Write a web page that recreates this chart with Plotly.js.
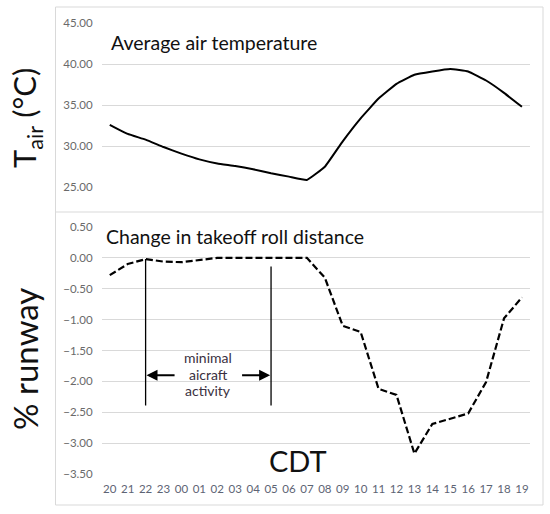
<!DOCTYPE html>
<html>
<head>
<meta charset="utf-8">
<script src="https://cdn.plot.ly/plotly-3.0.1.min.js"></script>
<style>html,body{margin:0;padding:0;background:#fff;}#chart{width:550px;height:514px;}</style>
</head>
<body>
<div id="chart"></div>
<script>
// ---- data ----
const hours = ['20','21','22','23','00','01','02','03','04','05','06','07','08','09','10','11','12','13','14','15','16','17','18','19'];
const airTemp = [32.6, 31.5, 30.8, 29.9, 29.1, 28.4, 27.9, 27.6, 27.2, 26.7, 26.3, 25.9, 27.5, 30.6, 33.4, 35.8, 37.6, 38.7, 39.1, 39.4, 39.1, 38.0, 36.5, 34.8];
const runwayChange = [-0.28, -0.10, -0.02, -0.06, -0.07, -0.03, 0.0, 0.0, 0.0, 0.0, 0.0, 0.0, -0.32, -1.10, -1.20, -2.12, -2.22, -3.17, -2.69, -2.60, -2.52, -2.01, -0.98, -0.64];
const topTicks = [25, 30, 35, 40, 45];
const bottomTicks = [0.5, 0, -0.5, -1, -1.5, -2, -2.5, -3, -3.5];
const topTitle = 'Average air temperature';
const bottomTitle = 'Change in takeoff roll distance';
const topYLabel = 'T<sub>air</sub> (°C)';
const bottomYLabel = '% runway';
const xLabel = 'CDT';
const activityStart = '22';
const activityEnd = '05';
const activityText = ['minimal', 'aicraft', 'activity'];

// ---- layout helpers (pixel -> paper) ----
const W = 550, H = 514;
const px = x => x / W;
const py = y => (H - y) / H;
const idx = h => hours.indexOf(h);
const FONT = 'Lato, "Open Sans", sans-serif';

const traces = [
  {x: hours, y: airTemp, xaxis: 'x', yaxis: 'y', type: 'scatter', mode: 'lines',
   line: {color: '#000', width: 2, shape: 'spline', smoothing: 0.3}, hoverinfo: 'skip'},
  {x: hours, y: runwayChange, xaxis: 'x2', yaxis: 'y2', type: 'scatter', mode: 'lines',
   line: {color: '#000', width: 2.2, dash: '7px,3px'}, hoverinfo: 'skip'}
];

const xr = [-0.45, hours.length - 0.55];
const gridC = '#d9d9d9';
const tickC = '#6a6a6a';

const layout = {
  width: W, height: H,
  margin: {l: 0, r: 0, t: 0, b: 0},
  paper_bgcolor: '#fff', plot_bgcolor: 'rgba(0,0,0,0)',
  showlegend: false,
  font: {family: FONT},
  xaxis: {type: 'category', domain: [px(101.7), px(530)], range: xr, anchor: 'y',
          showgrid: false, zeroline: false, showline: false, showticklabels: false, ticks: ''},
  yaxis: {domain: [py(187.3), py(23)], range: [25, 45], anchor: 'x',
          tickvals: topTicks, tickformat: '.2f', showgrid: true, gridcolor: gridC, gridwidth: 1,
          zeroline: false, showline: false, ticks: '', ticklabelstandoff: 8,
          tickfont: {family: FONT, size: 11.5, color: tickC}},
  xaxis2: {type: 'category', domain: [px(101.7), px(530)], range: xr, anchor: 'y2',
           showgrid: false, zeroline: false, showline: false, ticks: '',
           tickfont: {family: FONT, size: 11.5, color: '#5d6474'}, ticklabelstandoff: 6, tickangle: 0},
  yaxis2: {domain: [py(474), py(227)], range: [-3.5, 0.5], anchor: 'x2',
           tickvals: bottomTicks, tickformat: '.2f', showgrid: true, gridcolor: gridC, gridwidth: 1,
           zeroline: false, showline: false, ticks: '', ticklabelstandoff: 8,
           tickfont: {family: FONT, size: 11.5, color: tickC}},
  shapes: [
    {type: 'rect', xref: 'paper', yref: 'paper', x0: px(55.5), x1: px(543), y0: py(505), y1: py(7),
     line: {color: gridC, width: 1}, fillcolor: 'rgba(0,0,0,0)'},
    {type: 'line', xref: 'paper', yref: 'paper', x0: px(55.5), x1: px(543), y0: py(212), y1: py(212),
     line: {color: gridC, width: 1}},
    {type: 'line', xref: 'x2', yref: 'y2', x0: idx(activityStart), x1: idx(activityStart),
     y0: runwayChange[idx(activityStart)], y1: -2.39, line: {color: '#000', width: 1.3}},
    {type: 'line', xref: 'x2', yref: 'y2', x0: idx(activityEnd), x1: idx(activityEnd),
     y0: -0.14, y1: -2.39, line: {color: '#000', width: 1.3}}
  ],
  annotations: [
    {text: topTitle, xref: 'paper', yref: 'paper', x: px(109), y: py(42), xanchor: 'left', yanchor: 'middle',
     showarrow: false, font: {family: FONT, size: 19.5, color: '#111'}},
    {text: bottomTitle, xref: 'paper', yref: 'paper', x: px(104), y: py(236), xanchor: 'left', yanchor: 'middle',
     showarrow: false, font: {family: FONT, size: 19.5, color: '#111'}},
    {text: topYLabel, xref: 'paper', yref: 'paper', x: px(27), y: py(118), xanchor: 'center', yanchor: 'middle',
     textangle: -90, showarrow: false, font: {family: FONT, size: 31, color: '#111'}},
    {text: bottomYLabel, xref: 'paper', yref: 'paper', x: px(25), y: py(359), xanchor: 'center', yanchor: 'middle',
     textangle: -90, showarrow: false, font: {family: FONT, size: 33, color: '#111'}},
    {text: xLabel, xref: 'paper', yref: 'paper', x: px(298), y: py(460), xanchor: 'center', yanchor: 'middle',
     showarrow: false, font: {family: FONT, size: 29, color: '#111'}},
    // arrows
    {text: '', xref: 'x2', yref: 'y2', axref: 'x2', ayref: 'y2',
     x: idx(activityStart) + 0.05, y: -1.90, ax: idx(activityStart) + 1.7, ay: -1.90,
     showarrow: true, arrowhead: 2, arrowsize: 1.1, arrowwidth: 2, arrowcolor: '#000'},
    {text: '', xref: 'x2', yref: 'y2', axref: 'x2', ayref: 'y2',
     x: idx(activityEnd) - 0.05, y: -1.90, ax: idx(activityEnd) - 1.7, ay: -1.90,
     showarrow: true, arrowhead: 2, arrowsize: 1.1, arrowwidth: 2, arrowcolor: '#000'}
  ]
};

const midX = (idx(activityStart) + idx(activityEnd)) / 2;
const textYs = [-1.61, -1.885, -2.15];
activityText.forEach((t, i) => {
  layout.annotations.push({text: t, xref: 'x2', yref: 'y2', x: midX, y: textYs[i],
    xanchor: 'center', yanchor: 'middle', showarrow: false,
    font: {family: FONT, size: 14, color: '#3a3040'}});
});

Plotly.newPlot('chart', traces, layout, {displayModeBar: false, staticPlot: true});
</script>
</body>
</html>
